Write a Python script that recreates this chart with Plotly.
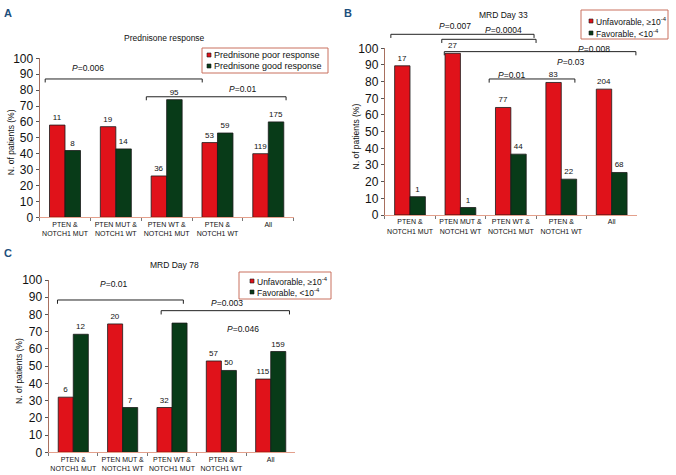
import plotly.graph_objects as go

W, H = 676, 475
FONT = "Liberation Sans, Arial, sans-serif"
RED = "#e0121a"
GREEN = "#083b18"
EDGE = "#1a1a1a"

groups = ["PTEN &<br>NOTCH1 MUT", "PTEN MUT &<br>NOTCH1 WT", "PTEN WT &<br>NOTCH1 MUT",
          "PTEN &<br>NOTCH1 WT", "All"]

# A: prednisone response (% of patients, n printed over bars)
pred_poor_pct = [58, 57, 26, 47, 40]
pred_good_pct = [42, 43, 74, 53, 60]
pred_poor_n = ["11", "19", "36", "53", "119"]
pred_good_n = ["8", "14", "95", "59", "175"]
pred_names = ["Prednisone poor response", "Prednisone good response"]
# brackets: x from, x to (category units), y level (%)
pred_brackets = [(-0.39, 2.70, 87.0), (1.60, 4.35, 75.8)]
pred_pvals = [(0.45, 94.0, "0.006"), (3.50, 81.0, "0.01")]

# B: MRD day 33
d33_unfav_pct = [89.5, 97, 64.5, 79.5, 75.5]
d33_fav_pct = [11, 4.5, 36.5, 21.5, 25.5]
d33_unfav_n = ["17", "27", "77", "83", "204"]
d33_fav_n = ["1", "1", "44", "22", "68"]
mrd_names = ["Unfavorable, \u226510<sup>-4</sup>", "Favorable, <10<sup>-4</sup>"]
d33_brackets = [(-0.38, 2.46, 108.4), (0.63, 2.50, 105.4), (0.68, 4.48, 98.0), (1.57, 3.27, 81.6)]
d33_pvals = [(0.90, 113.4, "0.007"), (1.85, 111.0, "0.0004"), (3.64, 99.6, "0.008"),
             (3.19, 91.6, "0.03"), (2.02, 84.0, "0.01")]

# C: MRD day 78
d78_unfav_pct = [32, 74.5, 26, 53, 42.5]
d78_fav_pct = [68.5, 26, 75, 47.5, 58.5]
d78_unfav_n = ["6", "20", "32", "57", "115"]
d78_fav_n = ["12", "7", "", "50", "159"]
d78_brackets = [(-0.32, 2.23, 88.4), (1.78, 4.38, 82.2)]
d78_pvals = [(0.81, 97.5, "0.01"), (3.11, 86.5, "0.003"), (3.44, 71.4, "0.046")]


def px(x, y):
    return x / W, 1 - y / H


def label(text, x, y, size, xref="paper", yref="paper", xanchor="center", **kw):
    return dict(text=text, x=x, y=y, xref=xref, yref=yref, xanchor=xanchor, yanchor="middle",
                showarrow=False, font=dict(size=size, color=kw.pop("color", "#111"), family=FONT),
                **kw)


fig = go.Figure()
shapes = []
annots = []


def add_panel(i, red, green, red_n, green_n, names, brackets, pvals,
              xpx, ypx, title, title_xy, letter, letter_xy, legend_box, legend_font):
    xa = "x" if i == 1 else f"x{i}"
    ya = "y" if i == 1 else f"y{i}"
    for vals, labels, col, name in [(red, red_n, RED, names[0]), (green, green_n, GREEN, names[1])]:
        fig.add_trace(go.Bar(
            x=groups, y=vals, text=labels, name=name, xaxis=xa, yaxis=ya,
            marker=dict(color=col, line=dict(color=EDGE, width=0.8)),
            textposition="outside", textfont=dict(size=8, color="#111", family=FONT),
            cliponaxis=False, constraintext="none", showlegend=False))

    x0, x1 = xpx[0] / W, xpx[1] / W
    y0, y1 = 1 - ypx[0] / H, 1 - ypx[1] / H
    key = "" if i == 1 else str(i)
    fig.layout["xaxis" + key] = dict(
        domain=[x0, x1], anchor=ya, type="category", showline=True, linecolor="#e3a08c",
        linewidth=1, ticks="outside", tickson="boundaries", ticklen=3, tickcolor="#777",
        tickangle=0, automargin=False,
        tickfont=dict(size=7, color="#111", family=FONT), showgrid=False)
    fig.layout["yaxis" + key] = dict(
        domain=[y0, y1], anchor=xa, range=[0, 100], dtick=10, showline=True,
        linecolor="#a8705f", linewidth=1, ticks="outside", ticklen=3, tickcolor="#555",
        automargin=False,
        tickfont=dict(size=12, color="#111", family=FONT), showgrid=False, zeroline=False)

    # y axis title
    annots.append(label("N. of patients (%)", (xpx[0] - 29) / W, 0.47, 8.5,
                        yref=f"{ya} domain", textangle=-90))

    # significance brackets
    drop = 0.022
    for bx0, bx1, by in brackets:
        fx0, fx1, fy = (bx0 + 0.5) / 5, (bx1 + 0.5) / 5, by / 100
        for a, b, c, d in [(fx0, fy - drop, fx0, fy), (fx0, fy, fx1, fy), (fx1, fy, fx1, fy - drop)]:
            shapes.append(dict(type="line", xref=f"{xa} domain", yref=f"{ya} domain",
                               x0=a, y0=b, x1=c, y1=d, line=dict(color="#222", width=1)))
    for px_, py_, txt in pvals:
        annots.append(label(f"<i>P</i>={txt}", (px_ + 0.5) / 5, py_ / 100, 8.5,
                            xref=f"{xa} domain", yref=f"{ya} domain"))

    tx, ty = px(*title_xy)
    annots.append(label(title, tx, ty, 8.5))
    lx, ly = px(*letter_xy)
    annots.append(label(f"<b>{letter}</b>", lx, ly, 11, xanchor="left", color="#1d4f7c"))

    # legend box
    bl, bt, br, bb, mx, rows = legend_box
    shapes.append(dict(type="rect", xref="paper", yref="paper",
                       x0=bl / W, x1=br / W, y0=1 - bb / H, y1=1 - bt / H,
                       line=dict(color="#c9705e", width=1), fillcolor="white"))
    for name, col, ry in zip(names, [RED, GREEN], rows):
        shapes.append(dict(type="rect", xref="paper", yref="paper",
                           x0=mx / W, x1=(mx + 4) / W, y0=1 - (ry + 2) / H, y1=1 - (ry - 2) / H,
                           fillcolor=col, line=dict(color=EDGE, width=0.6)))
        annots.append(label(name, (mx + 5) / W, 1 - ry / H, legend_font, xanchor="left"))


add_panel(1, pred_poor_pct, pred_good_pct, pred_poor_n, pred_good_n, pred_names,
          pred_brackets, pred_pvals, (39.6, 293.7), (217.3, 58.3),
          "Prednisone response", (164, 38), "A", (2, 13),
          (202, 48, 328, 73, 207, (55, 66)), 9)
add_panel(2, d33_unfav_pct, d33_fav_pct, d33_unfav_n, d33_fav_n, mrd_names,
          d33_brackets, d33_pvals, (384.8, 636.9), (215, 48.3),
          "MRD Day 33", (503, 15), "B", (342, 13),
          (581, 10, 668, 39, 589, (21, 33)), 8.5)
add_panel(3, d78_unfav_pct, d78_fav_pct, d78_unfav_n, d78_fav_n, mrd_names,
          d78_brackets, d78_pvals, (48.6, 295.4), (452.3, 280),
          "MRD Day 78", (174, 265), "C", (2, 253),
          (239, 272, 331, 299, 250, (281, 292)), 8.5)

fig.update_layout(
    width=W, height=H, margin=dict(l=0, r=0, t=0, b=0),
    paper_bgcolor="white", plot_bgcolor="white",
    barmode="group", bargap=0.39, bargroupgap=0,
    showlegend=False, shapes=shapes, annotations=annots,
    font=dict(family=FONT, color="#111"))

# drop the default page margin so the figure sits at the window corner
fig.write_html("out.html", config={"displayModeBar": False},
               post_script="document.body.style.margin='0';")
